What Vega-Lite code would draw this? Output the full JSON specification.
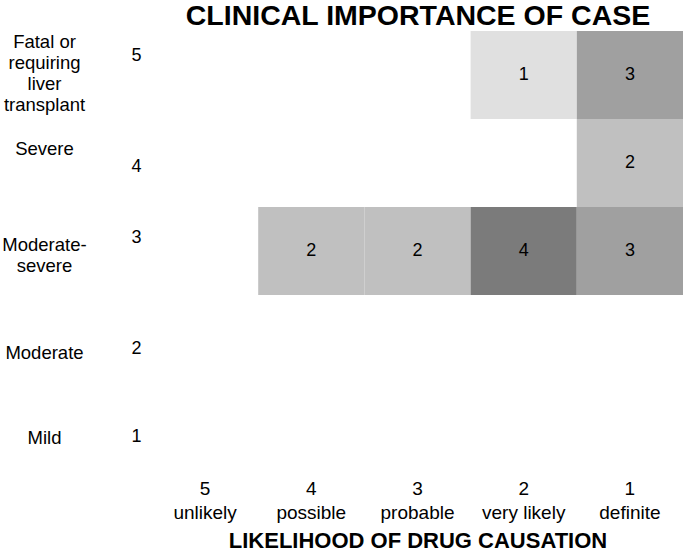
{
  "$schema": "https://vega.github.io/schema/vega-lite/v6.json",
  "width": 531,
  "height": 440,
  "autosize": "none",
  "padding": {"left": 152, "top": 31, "right": 0, "bottom": 80},
  "background": "white",
  "config": {
    "view": {"stroke": null},
    "font": "Liberation Sans",
    "axis": {"labelColor": "black", "titleColor": "black", "domain": false, "ticks": false, "grid": false}
  },
  "data": {
    "values": [
      {"severity": 5, "causation": "very likely", "count": 1},
      {"severity": 5, "causation": "definite", "count": 3},
      {"severity": 4, "causation": "definite", "count": 2},
      {"severity": 3, "causation": "possible", "count": 2},
      {"severity": 3, "causation": "probable", "count": 2},
      {"severity": 3, "causation": "very likely", "count": 4},
      {"severity": 3, "causation": "definite", "count": 3}
    ]
  },
  "layer": [
    {
      "mark": {"type": "rect"},
      "encoding": {
        "x": {
          "field": "causation",
          "type": "nominal",
          "scale": {"domain": ["unlikely", "possible", "probable", "very likely", "definite"], "paddingInner": 0, "paddingOuter": 0},
          "axis": {
            "orient": "bottom",
            "title": "LIKELIHOOD OF DRUG CAUSATION",
            "titleFontSize": 22,
            "titleFontWeight": "bold",
            "titlePadding": 8,
            "labelAngle": 0,
            "labelFontSize": 19,
            "labelLineHeight": 24,
            "labelPadding": 8,
            "labelExpr": "[{'unlikely': '5', 'possible': '4', 'probable': '3', 'very likely': '2', 'definite': '1'}[datum.value], datum.value]"
          }
        },
        "y": {
          "field": "severity",
          "type": "ordinal",
          "scale": {"domain": [5, 4, 3, 2, 1], "paddingInner": 0, "paddingOuter": 0},
          "axis": {
            "title": null,
            "orient": "left",
            "labelFontSize": 18,
            "labelPadding": 11,
            "labelOffset": {
              "condition": [
                {"test": "datum.value == 5", "value": -19},
                {"test": "datum.value == 4", "value": 4},
                {"test": "datum.value == 3", "value": -13}
              ],
              "value": 10
            }
          }
        },
        "color": {
          "field": "count",
          "type": "ordinal",
          "scale": {"domain": [1, 2, 3, 4], "range": ["#e0e0e0", "#c0c0c0", "#a0a0a0", "#7b7b7b"]},
          "legend": null
        }
      }
    },
    {
      "mark": {"type": "text", "fontSize": 18, "color": "black"},
      "encoding": {
        "x": {
          "field": "causation",
          "type": "nominal",
          "scale": {"domain": ["unlikely", "possible", "probable", "very likely", "definite"], "paddingInner": 0, "paddingOuter": 0},
          "axis": {
            "orient": "top",
            "labels": false,
            "title": "CLINICAL IMPORTANCE OF CASE",
            "titleFont": "Liberation Sans",
            "titleFontSize": 28.5,
            "titleFontWeight": "bold",
            "titleBaseline": "alphabetic",
            "titlePadding": 7
          }
        },
        "y": {
          "field": "severity",
          "type": "ordinal",
          "scale": {"domain": [5, 4, 3, 2, 1], "paddingInner": 0, "paddingOuter": 0},
          "axis": {
            "title": null,
            "orient": "left",
            "labelFontSize": 18.5,
            "labelAlign": "center",
            "labelBaseline": "top",
            "labelPadding": 108,
            "labelLineHeight": 21,
            "labelExpr": "datum.value == 5 ? ['Fatal or', 'requiring', 'liver', 'transplant'] : datum.value == 4 ? 'Severe' : datum.value == 3 ? ['Moderate-', 'severe'] : datum.value == 2 ? 'Moderate' : 'Mild'",
            "labelOffset": {
              "condition": [
                {"test": "datum.value == 5", "value": -43},
                {"test": "datum.value == 4", "value": -24},
                {"test": "datum.value == 3", "value": -16},
                {"test": "datum.value == 2", "value": 4}
              ],
              "value": 1
            }
          }
        },
        "text": {"field": "count", "type": "quantitative"}
      }
    }
  ],
  "resolve": {"scale": {"y": "independent", "x": "independent"}}
}
